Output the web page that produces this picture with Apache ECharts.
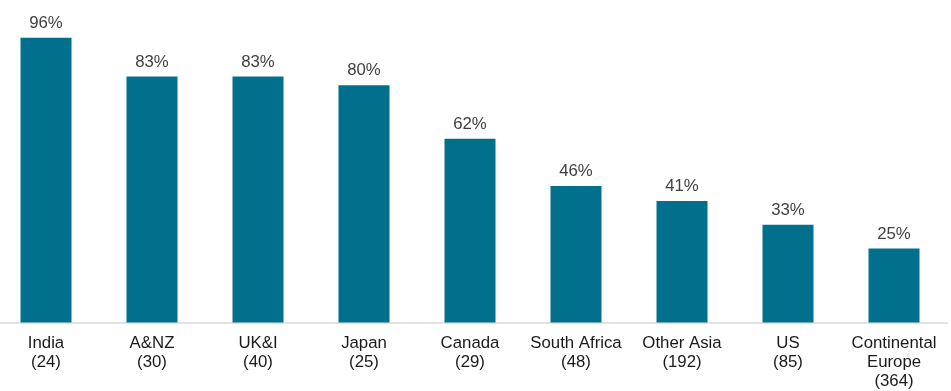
<!DOCTYPE html>
<html><head><meta charset="utf-8">
<script src="https://cdn.jsdelivr.net/npm/echarts@6/dist/echarts.min.js"></script>
<style>html,body{margin:0;padding:0;background:#fff;overflow:hidden}#c{width:958px;height:391px;position:relative;left:-7px}</style>
</head><body><div id="c"></div>
<script>
const categories = ["India\n(24)", "A&NZ\n(30)", "UK&I\n(40)", "Japan\n(25)", "Canada\n(29)", "South Africa\n(48)", "Other Asia\n(192)", "US\n(85)", "Continental\nEurope\n(364)"];
const values = [96, 83, 83, 80, 62, 46, 41, 33, 25];

const chart = echarts.init(document.getElementById('c'), null, {renderer: 'canvas'});
chart.setOption({
  animation: false,
  grid: {left: 0, right: 4, top: 26, bottom: 68, containLabel: false},
  xAxis: {
    type: 'category', data: categories,
    axisLine: {lineStyle: {color: '#d9d9d9', width: 1.5}},
    axisTick: {show: false},
    axisLabel: {color: '#1a1a1a', fontFamily: 'Liberation Sans, Arial', fontSize: 16.8, lineHeight: 19, margin: 11.5, interval: 0}
  },
  yAxis: {type: 'value', min: 0, max: 100, show: false, splitLine: {show: false}},
  series: [{
    type: 'bar', data: values, barWidth: 51,
    itemStyle: {color: '#00708d'},
    label: {show: true, position: 'top', distance: 6, formatter: '{c}%', color: '#404040', fontFamily: 'Liberation Sans, Arial', fontSize: 16.8}
  }]
});
</script></body></html>
